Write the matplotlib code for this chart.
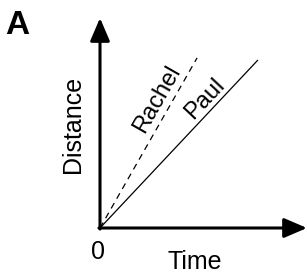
import matplotlib.pyplot as plt
import matplotlib as mpl

mpl.rcParams['font.family'] = ['Liberation Sans', 'DejaVu Sans']

# data (arbitrary units)
paul_time = [0, 7.63]
paul_dist = [0, 8.0]
rachel_time = [0, 4.69]
rachel_dist = [0, 8.1]

fig = plt.figure(figsize=(3.07, 2.75), dpi=100)
ax = fig.add_axes([100 / 307, 47 / 275, 207 / 307, 210 / 275])
ax.set_xlim(0, 10)
ax.set_ylim(0, 10)
ax.axis('off')

ax.plot(paul_time, paul_dist, color='black', lw=0.9, solid_capstyle='butt')
ax.plot(rachel_time, rachel_dist, color='black', lw=0.9, dashes=(5, 4))

arrow = dict(arrowstyle='-|>,head_length=1.4,head_width=0.6', lw=2.2,
             color='black', shrinkA=0, shrinkB=0, mutation_scale=10)
ax.annotate('', xy=(10, 0), xytext=(-0.05, 0), arrowprops=arrow, annotation_clip=False)
ax.annotate('', xy=(0, 10), xytext=(0, -0.05), arrowprops=arrow, annotation_clip=False)

ax.text(2.75, 6.15, 'Rachel', rotation=60.3, rotation_mode='anchor',
        ha='center', va='center', fontsize=17)
ax.text(5.07, 6.15, 'Paul', rotation=46.8, rotation_mode='anchor',
        ha='center', va='center', fontsize=17)

ax.text(-1.30, 4.95, 'Distance', rotation=90, ha='center', va='center',
        fontsize=18, clip_on=False)
ax.text(4.6, -1.62, 'Time', ha='center', va='center', fontsize=18, clip_on=False)
ax.text(-0.12, -1.15, '0', ha='center', va='center', fontsize=18, clip_on=False)

fig.text(17 / 307, 1 - 25 / 275, 'A', ha='center', va='center', fontsize=24,
         fontweight='bold')

fig.savefig('out.png', dpi=100)
